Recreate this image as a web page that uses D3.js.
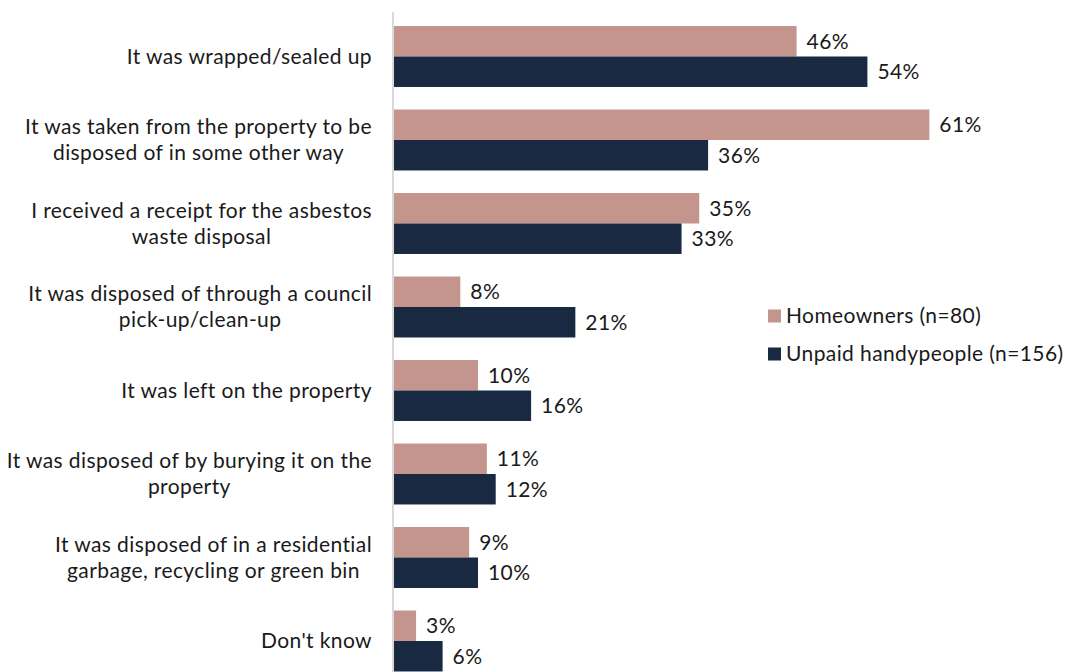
<!DOCTYPE html>
<html>
<head>
<meta charset="utf-8">
<script src="https://cdn.jsdelivr.net/npm/d3@7"></script>
<style>
  html, body { margin: 0; padding: 0; background: #fff; }
  svg { display: block; font-family: Lato, "Open Sans", sans-serif; }
</style>
</head>
<body>
<svg id="chart" width="1067" height="672"></svg>
<script>
// Survey responses: what happened to the asbestos waste
const categories = [
  ["It was wrapped/sealed up"],
  ["It was taken from the property to be", "disposed of in some other way"],
  ["I received a receipt for the asbestos", "waste disposal"],
  ["It was disposed of through a council", "pick-up/clean-up"],
  ["It was left on the property"],
  ["It was disposed of by burying it on the", "property"],
  ["It was disposed of in a residential", "garbage, recycling or green bin"],
  ["Don't know"]
];
const seriesNames = ["Homeowners (n=80)", "Unpaid handypeople (n=156)"];
const homeowners = [46, 61, 35, 8, 10, 11, 9, 3];
const handypeople = [54, 36, 33, 21, 16, 12, 10, 6];
const colors = ["#c4958c", "#1a2942"];

const svg = d3.select("#chart");
const fontSize = 21;
const letterSpacing = "0.4px";
const textColor = "#1a1a1a";

// Category axis position; the value scale's zero sits just left of it
const axisX = 393;
const x = d3.scaleLinear().domain([0, 100]).range([389.5, 389.5 + 885]);

const y = d3.scaleBand()
  .domain(d3.range(categories.length))
  .range([14.75, 682.75])
  .paddingInner(0.27)
  .paddingOuter(0.135);

const sub = d3.scaleBand().domain([0, 1]).range([0, y.bandwidth()]);

const series = [homeowners, handypeople];

// Bars and value labels
series.forEach((vals, s) => {
  svg.append("g").selectAll("rect")
    .data(vals)
    .join("rect")
    .attr("x", axisX)
    .attr("y", (d, i) => y(i) + sub(s))
    .attr("width", d => Math.max(0, x(d) - axisX))
    .attr("height", sub.bandwidth())
    .attr("fill", colors[s]);

  svg.append("g").selectAll("text")
    .data(vals)
    .join("text")
    .attr("x", d => x(d) + 10)
    .attr("y", (d, i) => y(i) + sub(s) + sub.bandwidth() / 2)
    .attr("dy", "0.35em")
    .attr("font-size", fontSize)
    .attr("letter-spacing", letterSpacing)
    .attr("fill", textColor)
    .text(d => d + "%");
});

// Vertical axis line
svg.append("line")
  .attr("x1", axisX).attr("x2", axisX)
  .attr("y1", 12).attr("y2", 672)
  .attr("stroke", "#d9d9d9")
  .attr("stroke-width", 2);

// Category labels: lines centred on each other, block right-aligned
const labelRight = 372;
const lineH = 26;
const labelG = svg.append("g");
categories.forEach((lines, i) => {
  const cy = y(i) + y.bandwidth() / 2;
  const t = labelG.append("text")
    .attr("font-size", fontSize)
    .attr("letter-spacing", letterSpacing)
    .attr("fill", textColor)
    .attr("text-anchor", "middle");
  const tspans = lines.map((ln, k) => t.append("tspan")
    .attr("y", cy + (k - (lines.length - 1) / 2) * lineH)
    .attr("dy", "0.35em")
    .text(ln));
  const maxW = d3.max(tspans, ts => ts.node().getComputedTextLength());
  tspans.forEach(ts => ts.attr("x", labelRight - maxW / 2));
});

// Legend
const legend = svg.append("g");
const legendY = [316, 354];
seriesNames.forEach((name, s) => {
  legend.append("rect")
    .attr("x", 768).attr("y", legendY[s] - 6.5)
    .attr("width", 13).attr("height", 13)
    .attr("fill", colors[s]);
  legend.append("text")
    .attr("x", 786).attr("y", legendY[s])
    .attr("dy", "0.35em")
    .attr("font-size", fontSize)
    .attr("letter-spacing", letterSpacing)
    .attr("fill", textColor)
    .text(name);
});
</script>
</body>
</html>
